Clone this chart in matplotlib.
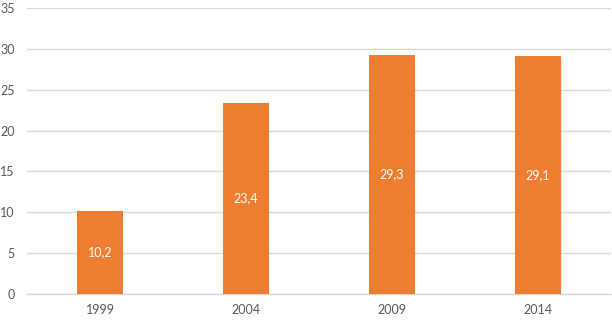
import matplotlib
matplotlib.use("Agg")
import matplotlib.pyplot as plt

years = ["1999", "2004", "2009", "2014"]
values = [10.2, 23.4, 29.3, 29.1]
labels = ["10,2", "23,4", "29,3", "29,1"]
yticks = [0, 5, 10, 15, 20, 25, 30, 35]

plt.rcParams['font.family'] = ['Lato', 'DejaVu Sans']

fig = plt.figure(figsize=(6.12, 3.31), dpi=100)
ax = fig.add_axes([27/612, 37/331, 584/612, 286/331])

x = range(len(years))
bars = ax.bar(x, values, width=0.315, color="#ED7D31", zorder=3)
for xi, v, lab in zip(x, values, labels):
    ax.text(xi, v/2, lab, ha="center", va="center", color="white", fontsize=9, zorder=4)

ax.set_xlim(-0.5, len(years) - 0.5)
ax.set_ylim(0, 35)
ax.set_yticks(yticks)
ax.set_yticklabels([str(t) for t in yticks])
ax.set_xticks(list(x))
ax.set_xticklabels(years)
ax.yaxis.grid(True, color="#D9D9D9", linewidth=1, zorder=0)
for s in ["top", "right", "left"]:
    ax.spines[s].set_visible(False)
ax.spines["bottom"].set_color("#D9D9D9")
ax.spines["bottom"].set_linewidth(1)
ax.tick_params(axis="both", length=0, colors="#595959", labelsize=9)
ax.tick_params(axis="y", pad=9)
ax.tick_params(axis="x", pad=7)

fig.savefig("out.png", dpi=100)
